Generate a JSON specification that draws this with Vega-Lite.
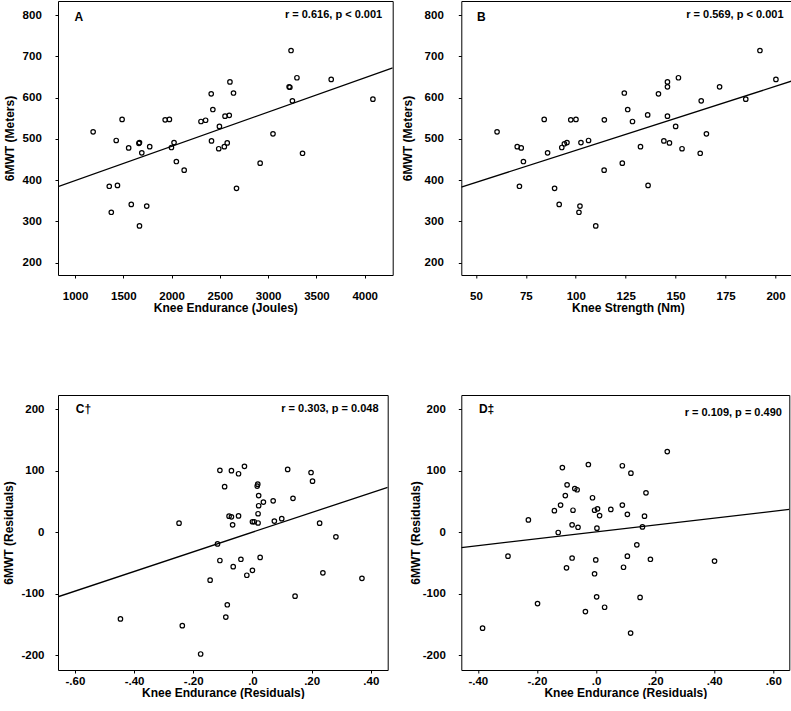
{
  "$schema": "https://vega.github.io/schema/vega-lite/v6.json",
  "background": "white",
  "padding": {"left": 2, "top": 0, "right": 0, "bottom": 0},
  "config": {
    "font": "Liberation Sans",
    "view": {"stroke": "black", "strokeWidth": 1},
    "axis": {
      "domain": false,
      "grid": false,
      "ticks": true,
      "tickSize": 3,
      "tickColor": "black",
      "labelColor": "black",
      "titleColor": "black",
      "labelFont": "Liberation Sans",
      "titleFont": "Liberation Sans",
      "labelFontSize": 11.5,
      "titleFontSize": 12,
      "labelFontWeight": "bold",
      "titleFontWeight": "bold",
      "labelFlush": false,
      "labelOverlap": false
    }
  },
  "columns": 2,
  "align": "all",
  "spacing": {"row": 79, "column": 6.3},
  "concat": [
    {
      "width": 334.7,
      "height": 274,
      "layer": [
        {
          "data": {"name": "points"},
          "transform": [{"filter": "datum.panel === 'A'"}],
          "mark": {"type": "point", "shape": "circle", "filled": false, "stroke": "black", "strokeWidth": 1.2, "size": 20, "opacity": 1},
          "encoding": {
            "x": {"field": "x", "type": "quantitative", "scale": {"domain": [823, 4290], "nice": false, "zero": false},
              "axis": {"values": [1000, 1500, 2000, 2500, 3000, 3500, 4000], "labelExpr": "datum.value + ''", "labelPadding": 12, "titlePadding": 1.3, "title": "Knee Endurance (Joules)"}},
            "y": {"field": "y", "type": "quantitative", "scale": {"domain": [170, 834], "nice": false, "zero": false},
              "axis": {"values": [200, 300, 400, 500, 600, 700, 800], "labelPadding": 13.7, "titlePadding": 6.1, "title": "6MWT (Meters)"}}
          }
        },
        {
          "data": {"name": "lines"},
          "transform": [{"filter": "datum.panel === 'A'"}],
          "mark": {"type": "line", "color": "black", "strokeWidth": 1.3, "clip": true},
          "encoding": {"x": {"field": "x", "type": "quantitative"}, "y": {"field": "y", "type": "quantitative"}}
        },
        {
          "data": {"name": "labels"},
          "transform": [{"filter": "datum.panel === 'A' && datum.kind === 'letter'"}],
          "mark": {"type": "text", "align": "left", "baseline": "middle", "fontSize": 12, "fontWeight": "bold", "color": "black"},
          "encoding": {"x": {"field": "x", "type": "quantitative"}, "y": {"field": "y", "type": "quantitative"}, "text": {"field": "text"}}
        },
        {
          "data": {"name": "labels"},
          "transform": [{"filter": "datum.panel === 'A' && datum.kind === 'stat'"}],
          "mark": {"type": "text", "align": "right", "baseline": "middle", "fontSize": 11, "fontWeight": "bold", "color": "black"},
          "encoding": {"x": {"field": "x", "type": "quantitative"}, "y": {"field": "y", "type": "quantitative"}, "text": {"field": "text"}}
        }
      ]
    },
    {
      "width": 333,
      "height": 274,
      "layer": [
        {
          "data": {"name": "points"},
          "transform": [{"filter": "datum.panel === 'B'"}],
          "mark": {"type": "point", "shape": "circle", "filled": false, "stroke": "black", "strokeWidth": 1.2, "size": 20, "opacity": 1},
          "encoding": {
            "x": {"field": "x", "type": "quantitative", "scale": {"domain": [42.7, 209.4], "nice": false, "zero": false},
              "axis": {"values": [50, 75, 100, 125, 150, 175, 200], "labelPadding": 12, "titlePadding": 1.3, "title": "Knee Strength (Nm)"}},
            "y": {"field": "y", "type": "quantitative", "scale": {"domain": [170, 834], "nice": false, "zero": false},
              "axis": {"values": [200, 300, 400, 500, 600, 700, 800], "labelPadding": 15, "titlePadding": 9.8, "title": "6MWT (Meters)"}}
          }
        },
        {
          "data": {"name": "lines"},
          "transform": [{"filter": "datum.panel === 'B'"}],
          "mark": {"type": "line", "color": "black", "strokeWidth": 1.3, "clip": true},
          "encoding": {"x": {"field": "x", "type": "quantitative"}, "y": {"field": "y", "type": "quantitative"}}
        },
        {
          "data": {"name": "labels"},
          "transform": [{"filter": "datum.panel === 'B' && datum.kind === 'letter'"}],
          "mark": {"type": "text", "align": "left", "baseline": "middle", "fontSize": 12, "fontWeight": "bold", "color": "black"},
          "encoding": {"x": {"field": "x", "type": "quantitative"}, "y": {"field": "y", "type": "quantitative"}, "text": {"field": "text"}}
        },
        {
          "data": {"name": "labels"},
          "transform": [{"filter": "datum.panel === 'B' && datum.kind === 'stat'"}],
          "mark": {"type": "text", "align": "right", "baseline": "middle", "fontSize": 11, "fontWeight": "bold", "color": "black"},
          "encoding": {"x": {"field": "x", "type": "quantitative"}, "y": {"field": "y", "type": "quantitative"}, "text": {"field": "text"}}
        }
      ]
    },
    {
      "width": 329.7,
      "height": 275,
      "layer": [
        {
          "data": {"name": "points"},
          "transform": [{"filter": "datum.panel === 'C'"}],
          "mark": {"type": "point", "shape": "circle", "filled": false, "stroke": "black", "strokeWidth": 1.2, "size": 20, "opacity": 1},
          "encoding": {
            "x": {"field": "x", "type": "quantitative", "scale": {"domain": [-0.657, 0.457], "nice": false, "zero": false},
              "axis": {"values": [-0.6, -0.4, -0.2, 0, 0.2, 0.4], "labelExpr": "datum.value == 0 ? '.0' : replace(replace(format(datum.value, '.2f'), '\u2212', '-'), '0.', '.')", "labelPadding": 2.5, "titlePadding": 0, "title": "Knee Endurance (Residuals)"}},
            "y": {"field": "y", "type": "quantitative", "scale": {"domain": [-224, 223], "nice": false, "zero": false},
              "axis": {"values": [-200, -100, 0, 100, 200], "labelExpr": "datum.value + ''", "labelPadding": 11, "titlePadding": 5, "title": "6MWT (Residuals)"}}
          }
        },
        {
          "data": {"name": "lines"},
          "transform": [{"filter": "datum.panel === 'C'"}],
          "mark": {"type": "line", "color": "black", "strokeWidth": 1.3, "clip": true},
          "encoding": {"x": {"field": "x", "type": "quantitative"}, "y": {"field": "y", "type": "quantitative"}}
        },
        {
          "data": {"name": "labels"},
          "transform": [{"filter": "datum.panel === 'C' && datum.kind === 'letter'"}],
          "mark": {"type": "text", "align": "left", "baseline": "middle", "fontSize": 12, "fontWeight": "bold", "color": "black"},
          "encoding": {"x": {"field": "x", "type": "quantitative"}, "y": {"field": "y", "type": "quantitative"}, "text": {"field": "text"}}
        },
        {
          "data": {"name": "labels"},
          "transform": [{"filter": "datum.panel === 'C' && datum.kind === 'stat'"}],
          "mark": {"type": "text", "align": "right", "baseline": "middle", "fontSize": 11, "fontWeight": "bold", "color": "black"},
          "encoding": {"x": {"field": "x", "type": "quantitative"}, "y": {"field": "y", "type": "quantitative"}, "text": {"field": "text"}}
        }
      ]
    },
    {
      "width": 328,
      "height": 275,
      "layer": [
        {
          "data": {"name": "points"},
          "transform": [{"filter": "datum.panel === 'D'"}],
          "mark": {"type": "point", "shape": "circle", "filled": false, "stroke": "black", "strokeWidth": 1.2, "size": 20, "opacity": 1},
          "encoding": {
            "x": {"field": "x", "type": "quantitative", "scale": {"domain": [-0.456, 0.654], "nice": false, "zero": false},
              "axis": {"values": [-0.4, -0.2, 0, 0.2, 0.4, 0.6], "labelExpr": "datum.value == 0 ? '.0' : replace(replace(format(datum.value, '.2f'), '\u2212', '-'), '0.', '.')", "labelPadding": 2.5, "titlePadding": 0, "title": "Knee Endurance (Residuals)"}},
            "y": {"field": "y", "type": "quantitative", "scale": {"domain": [-224, 223], "nice": false, "zero": false},
              "axis": {"values": [-200, -100, 0, 100, 200], "labelExpr": "datum.value + ''", "labelPadding": 13, "titlePadding": 0, "title": "6MWT (Residuals)"}}
          }
        },
        {
          "data": {"name": "lines"},
          "transform": [{"filter": "datum.panel === 'D'"}],
          "mark": {"type": "line", "color": "black", "strokeWidth": 1.3, "clip": true},
          "encoding": {"x": {"field": "x", "type": "quantitative"}, "y": {"field": "y", "type": "quantitative"}}
        },
        {
          "data": {"name": "labels"},
          "transform": [{"filter": "datum.panel === 'D' && datum.kind === 'letter'"}],
          "mark": {"type": "text", "align": "left", "baseline": "middle", "fontSize": 12, "fontWeight": "bold", "color": "black"},
          "encoding": {"x": {"field": "x", "type": "quantitative"}, "y": {"field": "y", "type": "quantitative"}, "text": {"field": "text"}}
        },
        {
          "data": {"name": "labels"},
          "transform": [{"filter": "datum.panel === 'D' && datum.kind === 'stat'"}],
          "mark": {"type": "text", "align": "right", "baseline": "middle", "fontSize": 11, "fontWeight": "bold", "color": "black"},
          "encoding": {"x": {"field": "x", "type": "quantitative"}, "y": {"field": "y", "type": "quantitative"}, "text": {"field": "text"}}
        }
      ]
    }
  ],
  "datasets": {
    "points": [
      {"panel": "A", "x": 1187, "y": 517}, {"panel": "A", "x": 1354, "y": 385}, {"panel": "A", "x": 1375, "y": 322}, {"panel": "A", "x": 1426, "y": 496},
      {"panel": "A", "x": 1439, "y": 387}, {"panel": "A", "x": 1487, "y": 547}, {"panel": "A", "x": 1555, "y": 478}, {"panel": "A", "x": 1582, "y": 341},
      {"panel": "A", "x": 1661, "y": 489}, {"panel": "A", "x": 1667, "y": 491}, {"panel": "A", "x": 1691, "y": 466}, {"panel": "A", "x": 1742, "y": 337},
      {"panel": "A", "x": 1667, "y": 289}, {"panel": "A", "x": 1773, "y": 481}, {"panel": "A", "x": 1933, "y": 546}, {"panel": "A", "x": 1977, "y": 547},
      {"panel": "A", "x": 1998, "y": 479}, {"panel": "A", "x": 2025, "y": 491}, {"panel": "A", "x": 2049, "y": 445}, {"panel": "A", "x": 2130, "y": 424},
      {"panel": "A", "x": 2304, "y": 542}, {"panel": "A", "x": 2352, "y": 545}, {"panel": "A", "x": 2410, "y": 609}, {"panel": "A", "x": 2427, "y": 571},
      {"panel": "A", "x": 2413, "y": 495}, {"panel": "A", "x": 2488, "y": 476}, {"panel": "A", "x": 2495, "y": 530}, {"panel": "A", "x": 2546, "y": 481},
      {"panel": "A", "x": 2553, "y": 555}, {"panel": "A", "x": 2576, "y": 490}, {"panel": "A", "x": 2597, "y": 557}, {"panel": "A", "x": 2604, "y": 638},
      {"panel": "A", "x": 2641, "y": 611}, {"panel": "A", "x": 2672, "y": 380}, {"panel": "A", "x": 2917, "y": 441}, {"panel": "A", "x": 3050, "y": 512},
      {"panel": "A", "x": 3217, "y": 626}, {"panel": "A", "x": 3225, "y": 625}, {"panel": "A", "x": 3237, "y": 714}, {"panel": "A", "x": 3251, "y": 592},
      {"panel": "A", "x": 3298, "y": 648}, {"panel": "A", "x": 3356, "y": 465}, {"panel": "A", "x": 3653, "y": 644}, {"panel": "A", "x": 4085, "y": 596},

      {"panel": "B", "x": 60.6, "y": 517}, {"panel": "B", "x": 70.7, "y": 481}, {"panel": "B", "x": 72.7, "y": 478}, {"panel": "B", "x": 71.8, "y": 385},
      {"panel": "B", "x": 73.8, "y": 445}, {"panel": "B", "x": 84.2, "y": 547}, {"panel": "B", "x": 85.9, "y": 466}, {"panel": "B", "x": 89.4, "y": 380},
      {"panel": "B", "x": 91.7, "y": 341}, {"panel": "B", "x": 93.0, "y": 479}, {"panel": "B", "x": 94.3, "y": 488}, {"panel": "B", "x": 95.6, "y": 491},
      {"panel": "B", "x": 97.5, "y": 546}, {"panel": "B", "x": 100.1, "y": 547}, {"panel": "B", "x": 101.6, "y": 322}, {"panel": "B", "x": 102.1, "y": 337},
      {"panel": "B", "x": 102.6, "y": 491}, {"panel": "B", "x": 106.4, "y": 496}, {"panel": "B", "x": 110.0, "y": 289}, {"panel": "B", "x": 114.3, "y": 546},
      {"panel": "B", "x": 114.2, "y": 424}, {"panel": "B", "x": 123.3, "y": 441}, {"panel": "B", "x": 124.3, "y": 611}, {"panel": "B", "x": 126.0, "y": 571},
      {"panel": "B", "x": 128.4, "y": 542}, {"panel": "B", "x": 132.4, "y": 481}, {"panel": "B", "x": 136.0, "y": 558}, {"panel": "B", "x": 136.2, "y": 387},
      {"panel": "B", "x": 141.4, "y": 609}, {"panel": "B", "x": 144.1, "y": 495}, {"panel": "B", "x": 145.9, "y": 638}, {"panel": "B", "x": 145.9, "y": 626},
      {"panel": "B", "x": 145.9, "y": 555}, {"panel": "B", "x": 146.9, "y": 490}, {"panel": "B", "x": 150.0, "y": 530}, {"panel": "B", "x": 151.4, "y": 648},
      {"panel": "B", "x": 153.2, "y": 476}, {"panel": "B", "x": 162.3, "y": 465}, {"panel": "B", "x": 162.8, "y": 592}, {"panel": "B", "x": 165.4, "y": 512},
      {"panel": "B", "x": 172.0, "y": 626}, {"panel": "B", "x": 185.1, "y": 596}, {"panel": "B", "x": 192.2, "y": 714}, {"panel": "B", "x": 200.2, "y": 644},

      {"panel": "C", "x": -0.446, "y": -141}, {"panel": "C", "x": -0.248, "y": 14.6}, {"panel": "C", "x": -0.237, "y": -152}, {"panel": "C", "x": -0.175, "y": -198},
      {"panel": "C", "x": -0.143, "y": -78}, {"panel": "C", "x": -0.118, "y": -19}, {"panel": "C", "x": -0.110, "y": 100.5}, {"panel": "C", "x": -0.110, "y": -46},
      {"panel": "C", "x": -0.094, "y": 74}, {"panel": "C", "x": -0.090, "y": -138}, {"panel": "C", "x": -0.085, "y": -118}, {"panel": "C", "x": -0.079, "y": 26},
      {"panel": "C", "x": -0.071, "y": 100}, {"panel": "C", "x": -0.071, "y": 25}, {"panel": "C", "x": -0.067, "y": 12}, {"panel": "C", "x": -0.065, "y": -56},
      {"panel": "C", "x": -0.047, "y": 95}, {"panel": "C", "x": -0.047, "y": 26.5}, {"panel": "C", "x": -0.039, "y": -44}, {"panel": "C", "x": -0.027, "y": 107},
      {"panel": "C", "x": -0.019, "y": -70}, {"panel": "C", "x": 0.000, "y": -62}, {"panel": "C", "x": 0.000, "y": 17}, {"panel": "C", "x": 0.006, "y": 17},
      {"panel": "C", "x": 0.016, "y": 75}, {"panel": "C", "x": 0.018, "y": 78}, {"panel": "C", "x": 0.021, "y": 59.5}, {"panel": "C", "x": 0.019, "y": 30},
      {"panel": "C", "x": 0.019, "y": 15}, {"panel": "C", "x": 0.021, "y": 43}, {"panel": "C", "x": 0.026, "y": -41}, {"panel": "C", "x": 0.037, "y": 49},
      {"panel": "C", "x": 0.070, "y": 51}, {"panel": "C", "x": 0.074, "y": 18}, {"panel": "C", "x": 0.099, "y": 22}, {"panel": "C", "x": 0.119, "y": 102},
      {"panel": "C", "x": 0.137, "y": 55}, {"panel": "C", "x": 0.144, "y": -104}, {"panel": "C", "x": 0.198, "y": 97}, {"panel": "C", "x": 0.203, "y": 83},
      {"panel": "C", "x": 0.227, "y": 14.6}, {"panel": "C", "x": 0.238, "y": -66}, {"panel": "C", "x": 0.282, "y": -7.6}, {"panel": "C", "x": 0.370, "y": -75},

      {"panel": "D", "x": -0.384, "y": -156}, {"panel": "D", "x": -0.298, "y": -39}, {"panel": "D", "x": -0.229, "y": 20}, {"panel": "D", "x": -0.198, "y": -116},
      {"panel": "D", "x": -0.141, "y": 35}, {"panel": "D", "x": -0.128, "y": -0.5}, {"panel": "D", "x": -0.120, "y": 44}, {"panel": "D", "x": -0.114, "y": 105},
      {"panel": "D", "x": -0.104, "y": 59.5}, {"panel": "D", "x": -0.100, "y": -58}, {"panel": "D", "x": -0.098, "y": 77}, {"panel": "D", "x": -0.081, "y": 12},
      {"panel": "D", "x": -0.081, "y": -42}, {"panel": "D", "x": -0.078, "y": 35.7}, {"panel": "D", "x": -0.072, "y": 71}, {"panel": "D", "x": -0.064, "y": 69},
      {"panel": "D", "x": -0.061, "y": 8}, {"panel": "D", "x": -0.036, "y": -129}, {"panel": "D", "x": -0.026, "y": 110}, {"panel": "D", "x": -0.012, "y": 56},
      {"panel": "D", "x": -0.005, "y": 35.7}, {"panel": "D", "x": -0.005, "y": -67.6}, {"panel": "D", "x": -0.001, "y": -45}, {"panel": "D", "x": 0.002, "y": -105},
      {"panel": "D", "x": 0.003, "y": 6.5}, {"panel": "D", "x": 0.005, "y": 38}, {"panel": "D", "x": 0.012, "y": 27}, {"panel": "D", "x": 0.029, "y": -122},
      {"panel": "D", "x": 0.050, "y": 37}, {"panel": "D", "x": 0.089, "y": 108}, {"panel": "D", "x": 0.089, "y": 44}, {"panel": "D", "x": 0.093, "y": -57},
      {"panel": "D", "x": 0.106, "y": 29}, {"panel": "D", "x": 0.106, "y": -39}, {"panel": "D", "x": 0.118, "y": 96}, {"panel": "D", "x": 0.117, "y": -164},
      {"panel": "D", "x": 0.138, "y": -20.5}, {"panel": "D", "x": 0.149, "y": -106}, {"panel": "D", "x": 0.157, "y": 8.6}, {"panel": "D", "x": 0.164, "y": 26},
      {"panel": "D", "x": 0.169, "y": 64}, {"panel": "D", "x": 0.184, "y": -44}, {"panel": "D", "x": 0.241, "y": 131}, {"panel": "D", "x": 0.401, "y": -47}
    ],
    "lines": [
      {"panel": "A", "x": 823, "y": 384}, {"panel": "A", "x": 4290, "y": 672},
      {"panel": "B", "x": 42.7, "y": 383}, {"panel": "B", "x": 209.4, "y": 642},
      {"panel": "C", "x": -0.657, "y": -105}, {"panel": "C", "x": 0.457, "y": 73},
      {"panel": "D", "x": -0.456, "y": -25}, {"panel": "D", "x": 0.654, "y": 37}
    ],
    "labels": [
      {"panel": "A", "kind": "letter", "text": "A", "x": 993, "y": 795},
      {"panel": "A", "kind": "stat", "text": "r = 0.616, p < 0.001", "x": 4181, "y": 800},
      {"panel": "B", "kind": "letter", "text": "B", "x": 50.6, "y": 795},
      {"panel": "B", "kind": "stat", "text": "r = 0.569, p < 0.001", "x": 204.0, "y": 800},
      {"panel": "C", "kind": "letter", "text": "C†", "x": -0.597, "y": 200},
      {"panel": "C", "kind": "stat", "text": "r = 0.303, p = 0.048", "x": 0.426, "y": 200},
      {"panel": "D", "kind": "letter", "text": "D‡", "x": -0.3965, "y": 200},
      {"panel": "D", "kind": "stat", "text": "r = 0.109, p = 0.490", "x": 0.629, "y": 193.5}
    ]
  }
}
